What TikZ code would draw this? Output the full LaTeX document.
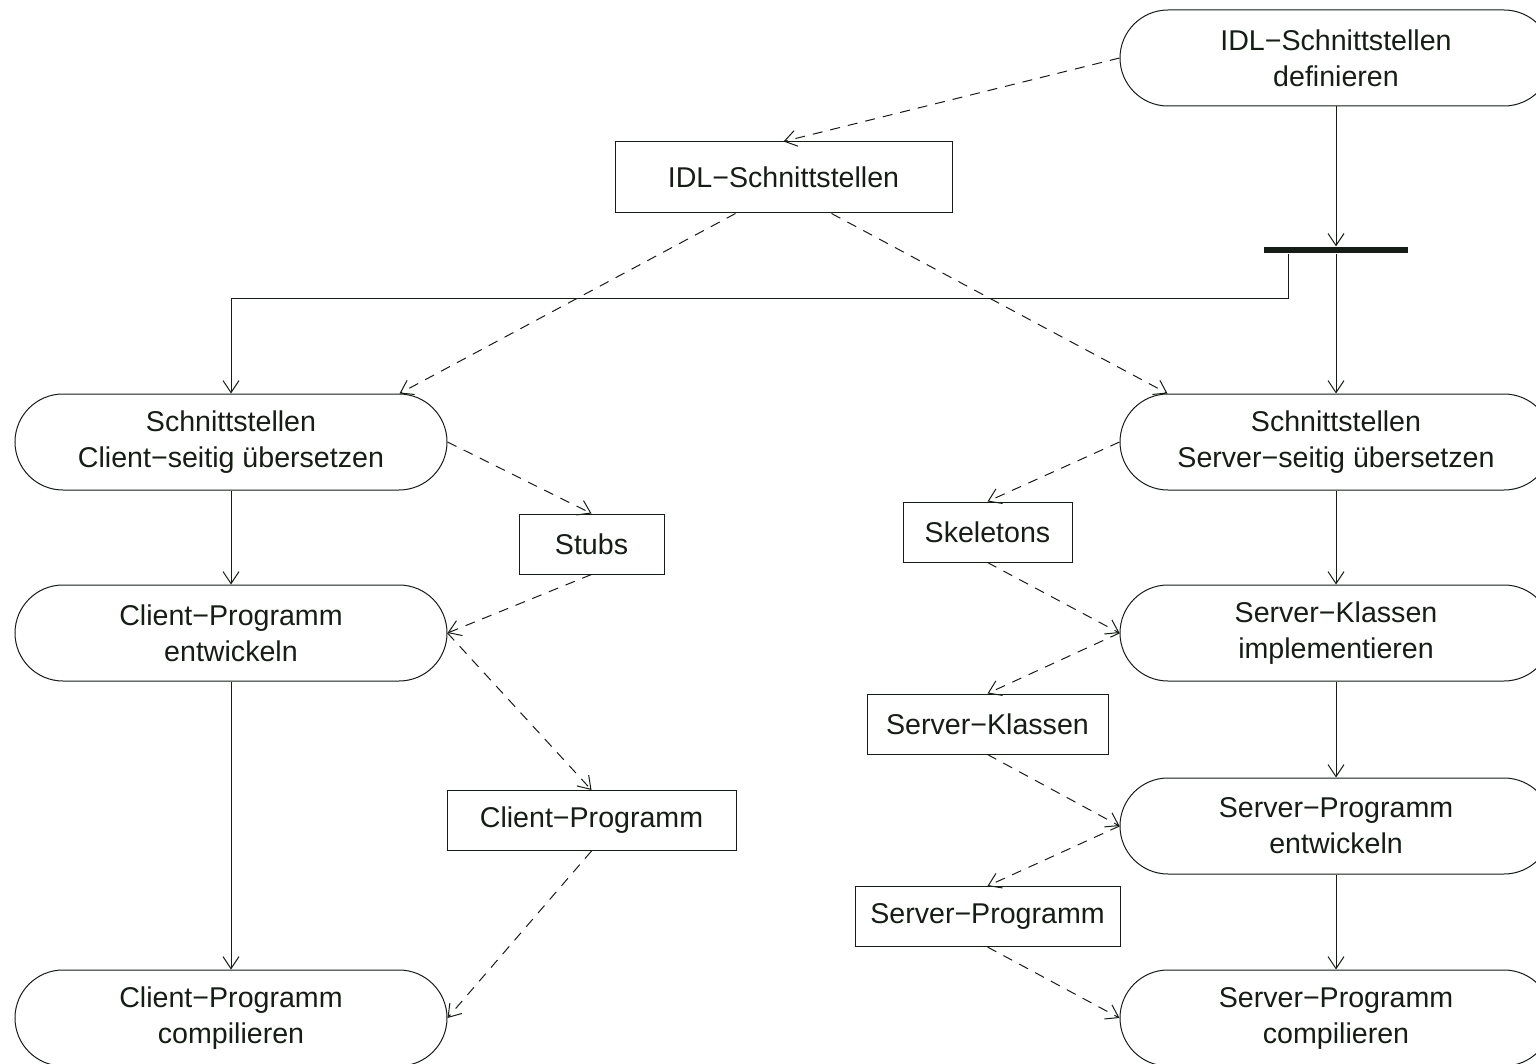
\documentclass[tikz,border=0pt]{standalone}
\usepackage{fontspec}
\setmainfont{Liberation Sans}
\usetikzlibrary{
  arrows.meta,
  calc
}
\definecolor{corbaLine}{RGB}{22,28,22}
\tikzset{
  corbastep/.style={
    draw=corbaLine,
    line width=0.5pt,
    rounded corners=24pt,
    minimum width=216pt,
    minimum height=48pt,
    inner sep=0pt,
    align=center,
    text=corbaLine,
    font=\fontsize{14.3}{18}\selectfont
  },
  corbadata/.style={
    draw=corbaLine,
    line width=0.5pt,
    minimum height=30pt,
    inner sep=0pt,
    align=center,
    text=corbaLine,
    font=\fontsize{14.3}{18}\selectfont
  },
  corbabar/.style={
    fill=corbaLine,
    minimum width=72pt,
    minimum height=3.2pt,
    inner sep=0pt
  },
  corbaflow/.style={
    -{Straight Barb[length=6pt,width=8pt]},
    line width=0.5pt,
    draw=corbaLine
  },
  corbadashed/.style={
    corbaflow,
    dash pattern=on 5pt off 4pt
  }
}
\begin{document}
\begin{tikzpicture}[x=0.5pt, y=-0.5pt]
  \useasboundingbox (0,0) rectangle (1536,1064);

  % activities
  \node[corbastep] (def) at (1336,58) {IDL−Schnittstellen\\definieren};
  \node[corbastep] (cxl) at (231,442) {Schnittstellen\\Client−seitig übersetzen};
  \node[corbastep] (sxl) at (1336,442) {Schnittstellen\\Server−seitig übersetzen};
  \node[corbastep] (cdev) at (231,633) {Client−Programm\\entwickeln};
  \node[corbastep] (simpl) at (1336,633) {Server−Klassen\\implementieren};
  \node[corbastep] (sdev) at (1336,826) {Server−Programm\\entwickeln};
  \node[corbastep] (ccomp) at (231,1018) {Client−Programm\\compilieren};
  \node[corbastep] (scomp) at (1336,1018) {Server−Programm\\compilieren};

  % artefacts
  \node[corbadata, minimum width=168.5pt, minimum height=35.5pt] (idl) at (783.5,177.5) {IDL−Schnittstellen};
  \node[corbadata, minimum width=72.5pt] (stubs) at (591.5,544) {Stubs};
  \node[corbadata, minimum width=144.5pt] (cprog) at (591.5,820.5) {Client−Programm};
  \node[corbadata, minimum width=84.5pt] (skel) at (987.5,532) {Skeletons};
  \node[corbadata, minimum width=120.5pt] (sklassen) at (987.5,724) {Server−Klassen};
  \node[corbadata, minimum width=132.5pt] (sprog) at (987.5,916.5) {Server−Programm};

  % fork
  \node[corbabar] (bar) at (1336,250) {};
  \coordinate (knee) at (1288,298);

  % control flow
  \draw[corbaflow] (def) -- (bar);
  \draw[corbaflow] (bar) -- (sxl);
  \draw[corbaflow] (knee |- bar.south) -- (knee) -| (cxl.north);
  \draw[corbaflow] (cxl) -- (cdev);
  \draw[corbaflow] (cdev) -- (ccomp);
  \draw[corbaflow] (sxl) -- (simpl);
  \draw[corbaflow] (simpl) -- (sdev);
  \draw[corbaflow] (sdev) -- (scomp);

  % object flow
  \draw[corbadashed] (def.west) -- (idl.north);
  \draw[corbadashed] ($(idl.south)+(-48,0)$) -- ($(cxl.north east)+(-48,0)$);
  \draw[corbadashed] ($(idl.south)+(48,0)$) -- ($(sxl.north west)+(48,0)$);
  \draw[corbadashed] (cxl.east) -- (stubs.north);
  \draw[corbadashed] (stubs.south) -- (cdev.east);
  \draw[corbadashed] (cdev.east) -- (cprog.north);
  \draw[corbadashed] (cprog.south) -- (ccomp.east);
  \draw[corbadashed] (sxl.west) -- (skel.north);
  \draw[corbadashed] (skel.south) -- (simpl.west);
  \draw[corbadashed] (simpl.west) -- (sklassen.north);
  \draw[corbadashed] (sklassen.south) -- (sdev.west);
  \draw[corbadashed] (sdev.west) -- (sprog.north);
  \draw[corbadashed] (sprog.south) -- (scomp.west);
\end{tikzpicture}
\end{document}
